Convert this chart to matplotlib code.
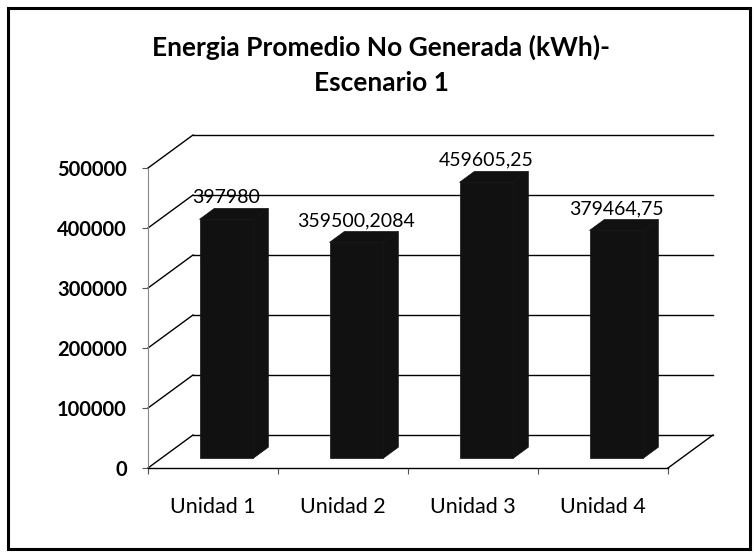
import matplotlib
matplotlib.use("Agg")
import matplotlib.pyplot as plt
from matplotlib.patches import Polygon, Rectangle

# Data
categories = ["Unidad 1", "Unidad 2", "Unidad 3", "Unidad 4"]
values = [397980, 359500.2084, 459605.25, 379464.75]
value_labels = ["397980", "359500,2084", "459605,25", "379464,75"]
y_ticks = [0, 100000, 200000, 300000, 400000, 500000]
y_tick_labels = ["0", "100000", "200000", "300000", "400000", "500000"]

title = "Energia Promedio No Generada (kWh)-\nEscenario 1"

# Layout (pixels on a 754x552 canvas)
W, H = 754, 552
DPI = 100
PX_LEFT, PX_RIGHT = 148, 715       # front axis / back-wall right edge
PX_BOTTOM, PX_TOP = 468, 135       # floor front edge / top of back wall
PX_PER_CAT = 130
PX_PER_UNIT = 0.0006               # pixels per kWh

# Oblique projection of the depth axis, in data units
DEPTH_X = 45 / PX_PER_CAT
DEPTH_Y = 33 / PX_PER_UNIT
BAR_FRONT, BAR_BACK = 0.30, 0.63   # bar depth span as fraction of full depth
BAR_WIDTH = 0.415

BAR_COLOR = "#111111"
FONT = "Lato"

fig = plt.figure(figsize=(W / DPI, H / DPI), dpi=DPI)
fig.patch.set_facecolor("white")

ax = fig.add_axes([PX_LEFT / W, (H - PX_BOTTOM) / H,
                   (PX_RIGHT - PX_LEFT) / W, (PX_BOTTOM - PX_TOP) / H])
ax.set_xlim(0, (PX_RIGHT - PX_LEFT) / PX_PER_CAT)
ax.set_ylim(0, (PX_BOTTOM - PX_TOP) / PX_PER_UNIT)
ax.patch.set_visible(False)

n = len(categories)

# Back wall gridlines and left wall diagonals
for v in y_ticks:
    ax.plot([DEPTH_X, n + DEPTH_X], [v + DEPTH_Y, v + DEPTH_Y],
            color="black", lw=1.0, zorder=1, clip_on=False)
    ax.plot([0, DEPTH_X], [v, v + DEPTH_Y],
            color="black", lw=1.0, zorder=1, clip_on=False)

# Floor: right edge
ax.plot([n, n + DEPTH_X], [0, DEPTH_Y], color="black", lw=1.0, zorder=1,
        clip_on=False)

# Spines as front axes
for side in ("top", "right"):
    ax.spines[side].set_visible(False)
ax.spines["left"].set_bounds(0, y_ticks[-1])
ax.spines["left"].set_color("#888888")
ax.spines["left"].set_linewidth(0.8)
ax.spines["left"].set_linestyle((0, (2, 1)))
ax.spines["bottom"].set_bounds(0, n)
ax.spines["bottom"].set_color("black")
ax.spines["bottom"].set_linewidth(1.0)

ax.set_yticks(y_ticks)
ax.set_yticklabels(y_tick_labels, fontfamily=FONT, fontweight="bold",
                   fontsize=14.5)
ax.tick_params(axis="y", direction="out", length=4.3, width=0.8,
               color="#555555", pad=11)

ax.set_xticks(range(n + 1))
ax.set_xticklabels([])
ax.set_xticks([i + 0.5 for i in range(n)], minor=True)
ax.set_xticklabels(categories, minor=True, fontfamily=FONT, fontsize=15.5)
ax.tick_params(axis="x", which="major", direction="out", length=4.3,
               width=0.8, color="#555555")
ax.tick_params(axis="x", which="minor", length=0, pad=21)

# 3D bars
dx_f, dy_f = BAR_FRONT * DEPTH_X, BAR_FRONT * DEPTH_Y
dx_d = (BAR_BACK - BAR_FRONT) * DEPTH_X
dy_d = (BAR_BACK - BAR_FRONT) * DEPTH_Y
for i, (v, lab) in enumerate(zip(values, value_labels)):
    x0 = i + 0.5 - BAR_WIDTH / 2 + dx_f
    x1 = x0 + BAR_WIDTH
    y0 = dy_f
    y1 = v + dy_f
    front = Rectangle((x0, y0), BAR_WIDTH, v, facecolor=BAR_COLOR,
                      edgecolor=BAR_COLOR, lw=0.5, zorder=3)
    side = Polygon([(x1, y0), (x1 + dx_d, y0 + dy_d), (x1 + dx_d, y1 + dy_d),
                    (x1, y1)], closed=True, facecolor=BAR_COLOR,
                   edgecolor=BAR_COLOR, lw=0.5, zorder=3)
    top = Polygon([(x0, y1), (x0 + dx_d, y1 + dy_d), (x1 + dx_d, y1 + dy_d),
                   (x1, y1)], closed=True, facecolor=BAR_COLOR,
                  edgecolor=BAR_COLOR, lw=0.5, zorder=3)
    for p in (front, side, top):
        p.set_clip_on(False)
        ax.add_patch(p)
    ax.annotate(lab, xy=((x0 + x1) / 2, y1), xytext=(0, 22),
                textcoords="offset pixels", ha="center", va="center",
                fontfamily=FONT, fontsize=14, color="black", zorder=4,
                annotation_clip=False)

# Title (baseline of the last line)
fig.text(381 / W, (H - 91) / H, title, ha="center", va="baseline",
         fontfamily=FONT, fontweight="bold", fontsize=19, linespacing=1.55)

# Chart border
fig.patches.append(Rectangle((8 / W, 3 / H), (750 - 8) / W, (544 - 3) / H,
                             transform=fig.transFigure, fill=False,
                             edgecolor="black", lw=2.2, zorder=10))

fig.savefig("out.png", dpi=DPI)
